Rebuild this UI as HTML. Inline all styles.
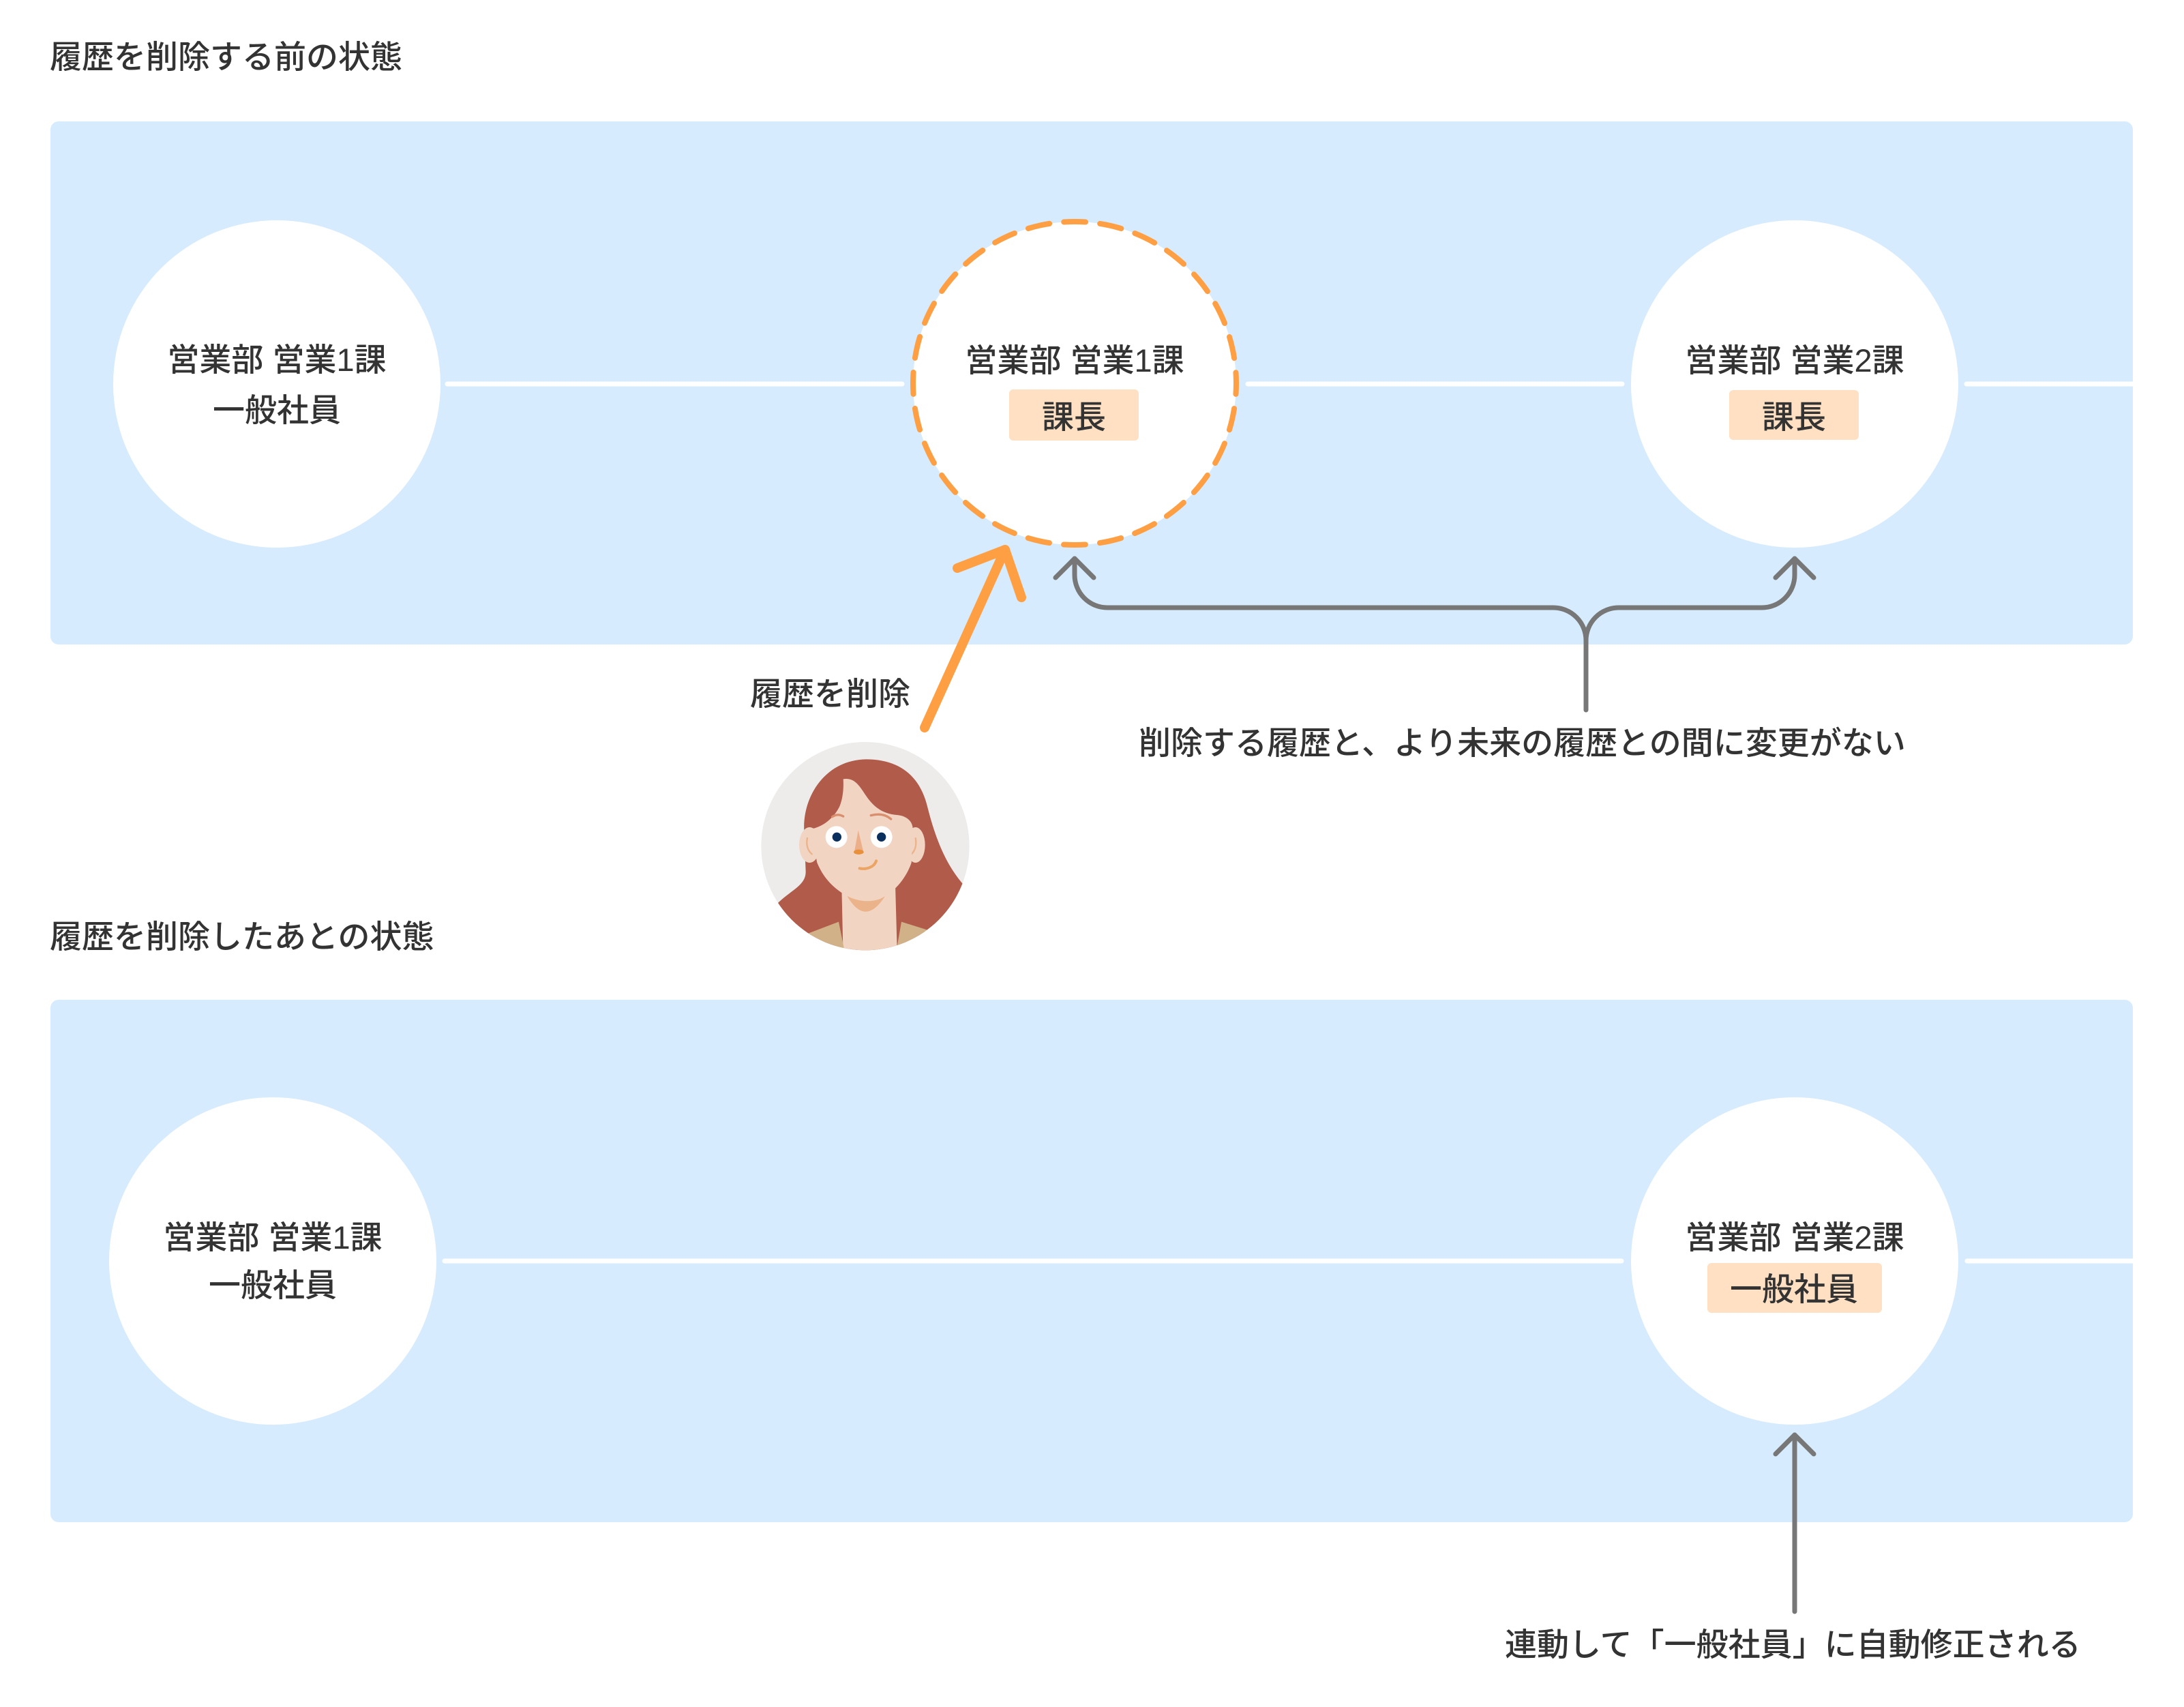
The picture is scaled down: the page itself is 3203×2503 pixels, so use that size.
<!DOCTYPE html>
<html lang="ja">
<head>
<meta charset="utf-8">
<style>
  html, body { margin: 0; padding: 0; background: #ffffff; }
  body { width: 3203px; height: 2503px; overflow: hidden; }
  svg { display: block; }
  text { font-family: "Liberation Sans", "Noto Sans CJK JP", sans-serif; fill: #333333; font-size: 47px; font-weight: 500; }
</style>
</head>
<body>
<svg width="3203" height="2503" viewBox="0 0 3203 2503" xmlns="http://www.w3.org/2000/svg">
  <defs>
    <clipPath id="avclip">
      <circle cx="477" cy="467" r="458"/>
    </clipPath>
  </defs>

  <!-- ===== Section 1 ===== -->
  <text x="73" y="100">履歴を削除する前の状態</text>
  <rect x="74" y="178" width="3054" height="767" rx="12" fill="#D6EBFD"/>

  <!-- connector lines -->
  <g stroke="#ffffff" stroke-width="7" stroke-linecap="round" fill="none">
    <line x1="656" y1="563" x2="1323" y2="563"/>
    <line x1="1830" y1="563" x2="2379" y2="563"/>
    <line x1="2884" y1="563" x2="3124" y2="563"/>
  </g>
  <rect x="3110" y="559.5" width="18" height="7" fill="#ffffff"/>

  <!-- circle 1 -->
  <circle cx="406" cy="563" r="240" fill="#ffffff"/>
  <text x="406" y="544" text-anchor="middle">営業部 営業1課</text>
  <text x="406" y="618" text-anchor="middle">一般社員</text>

  <!-- circle 2 (dashed) -->
  <circle cx="1576" cy="562" r="237" fill="#ffffff" stroke="#FF9F43" stroke-width="8"
          stroke-linecap="round" stroke-dasharray="32 21.18" stroke-dashoffset="16"/>
  <text x="1576" y="545" text-anchor="middle">営業部 営業1課</text>
  <rect x="1480" y="571" width="190" height="75" rx="6" fill="#FFE0C2"/>
  <text x="1575" y="628" text-anchor="middle">課長</text>

  <!-- circle 3 -->
  <circle cx="2632" cy="563" r="240" fill="#ffffff"/>
  <text x="2632" y="545" text-anchor="middle">営業部 営業2課</text>
  <rect x="2536" y="572" width="190" height="73" rx="6" fill="#FFE0C2"/>
  <text x="2631" y="628" text-anchor="middle">課長</text>

  <!-- gray brace arrows -->
  <g stroke="#777777" stroke-width="7" stroke-linecap="round" stroke-linejoin="round" fill="none">
    <path d="M1576,819 V843 A48,48 0 0 0 1624,891 H2278 A48,48 0 0 1 2326,939 V1041"/>
    <path d="M2326,939 A48,48 0 0 1 2374,891 H2584 A48,48 0 0 0 2632,843 V819"/>
    <path d="M1548,847 L1576,819 L1604,847"/>
    <path d="M2604,847 L2632,819 L2660,847"/>
  </g>

  <!-- orange arrow -->
  <g stroke="#FF9F43" stroke-width="14" stroke-linecap="round" stroke-linejoin="round" fill="none">
    <path d="M1356,1067 L1474,806"/>
    <path d="M1404,833 L1474,806 L1498,876"/>
  </g>

  <text x="1100" y="1034">履歴を削除</text>
  <text x="1670" y="1106">削除する履歴と、より未来の履歴との間に変更がない</text>

  <!-- avatar -->
  <g transform="translate(1110 1085) scale(0.33333)">
    <circle cx="477" cy="467" r="458" fill="#EDECEA"/>
    <g clip-path="url(#avclip)">
      <!-- hair back -->
      <path d="M208,400 C200,250 300,88 480,85 C640,85 722,170 752,300 C790,450 840,560 912,640 L980,980 L-20,980 L90,720 C150,660 215,640 215,580 Z" fill="#B15B4B"/>
      <!-- neck + neck shadow -->
      <path d="M372,600 L608,600 L618,960 L380,960 Z" fill="#F2D4C3"/>
      <path d="M374,640 Q480,880 600,620 L600,600 L374,600 Z" fill="#EBB38A"/>
      <!-- collar -->
      <path d="M215,855 L360,800 L392,960 L200,960 Z" fill="#D1B187"/>
      <path d="M636,800 L770,842 L780,960 L608,960 Z" fill="#D1B187"/>
      <!-- ears -->
      <ellipse cx="232" cy="462" rx="46" ry="78" fill="#F2D4C3"/>
      <ellipse cx="698" cy="462" rx="42" ry="78" fill="#F2D4C3"/>
      <path d="M222,432 C215,462 225,488 242,502" stroke="#EBB38A" stroke-width="7" fill="none" stroke-linecap="round"/>
      <path d="M698,432 C704,462 696,488 680,502" stroke="#EBB38A" stroke-width="7" fill="none" stroke-linecap="round"/>
      <!-- face -->
      <path d="M380,172 C430,165 450,200 480,245 C510,290 550,325 615,330 C660,333 688,360 686,395 L680,540 C660,600 610,670 540,700 C500,714 450,712 400,688 C330,650 290,600 265,540 L236,392 C292,384 342,340 365,290 C380,250 382,210 380,172 Z" fill="#F2D4C3"/>
      <!-- eyebrows -->
      <path d="M332,338 Q355,322 380,336" stroke="#D98E6E" stroke-width="10" fill="none" stroke-linecap="round"/>
      <path d="M502,332 Q555,318 590,348" stroke="#D98E6E" stroke-width="10" fill="none" stroke-linecap="round"/>
      <!-- eyes -->
      <circle cx="350" cy="427" r="48" fill="#ffffff"/>
      <circle cx="548" cy="427" r="48" fill="#ffffff"/>
      <circle cx="352" cy="427" r="20" fill="#0B2F5C"/>
      <circle cx="548" cy="427" r="20" fill="#0B2F5C"/>
      <!-- nose -->
      <path d="M446,398 L468,488 L428,497 Z" fill="#EBB08A"/>
      <ellipse cx="448" cy="493" rx="22" ry="11" fill="#E8913A"/>
      <!-- smile -->
      <path d="M452,565 C482,571 516,560 525,532" stroke="#EBA463" stroke-width="12" fill="none" stroke-linecap="round"/>
    </g>
  </g>

  <!-- ===== Section 2 ===== -->
  <text x="73" y="1390">履歴を削除したあとの状態</text>
  <rect x="74" y="1466" width="3054" height="766" rx="12" fill="#D6EBFD"/>

  <g stroke="#ffffff" stroke-width="7" stroke-linecap="round" fill="none">
    <line x1="652" y1="1849" x2="2378" y2="1849"/>
    <line x1="2885" y1="1849" x2="3124" y2="1849"/>
  </g>
  <rect x="3110" y="1845.5" width="18" height="7" fill="#ffffff"/>

  <circle cx="400" cy="1849" r="240" fill="#ffffff"/>
  <text x="400" y="1831" text-anchor="middle">営業部 営業1課</text>
  <text x="400" y="1901" text-anchor="middle">一般社員</text>

  <circle cx="2632" cy="1849" r="240" fill="#ffffff"/>
  <text x="2632" y="1831" text-anchor="middle">営業部 営業2課</text>
  <rect x="2504" y="1852" width="256" height="73" rx="6" fill="#FFE0C2"/>
  <text x="2631" y="1907" text-anchor="middle">一般社員</text>

  <g stroke="#777777" stroke-width="7" stroke-linecap="round" stroke-linejoin="round" fill="none">
    <path d="M2632,2363 V2104"/>
    <path d="M2604,2132 L2632,2104 L2660,2132"/>
  </g>

  <text x="2207" y="2428">連動して「一般社員」に自動修正される</text>
</svg>
</body>
</html>
